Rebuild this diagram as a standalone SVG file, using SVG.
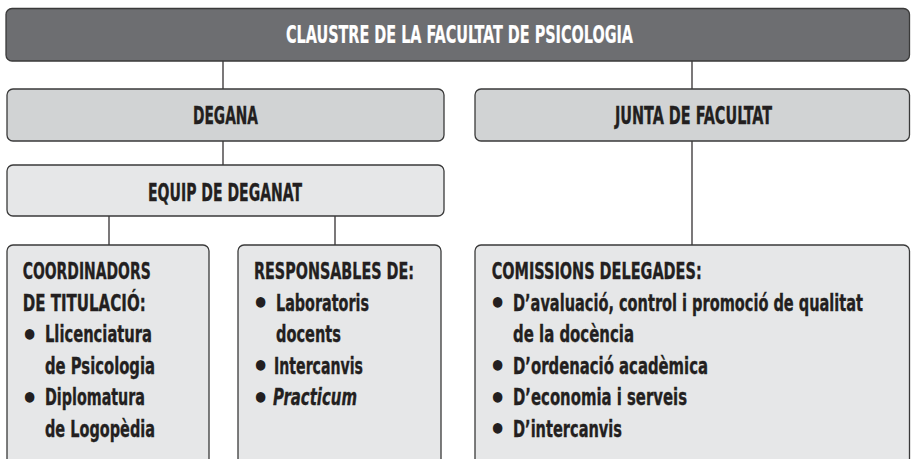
<svg xmlns="http://www.w3.org/2000/svg" width="911" height="459" viewBox="0 0 911 459">
<style>
.box{stroke:#3a3a3a;stroke-width:1.3}
.dark{fill:#6d6e71}
.mid{fill:#d1d3d4}
.light{fill:#e6e7e8}
.conn{stroke:#231f20;stroke-width:1.2;fill:none}
text{font-family:"DejaVu Sans Condensed","DejaVu Sans","Liberation Sans",sans-serif;font-weight:bold;fill:#231f20;stroke:#231f20;stroke-width:0.35}
.h{font-size:24.7px}
.b{font-size:22.5px}
.w{fill:#ffffff;stroke:#ffffff;stroke-width:0.2}
.bul{font-size:30px;stroke:none}
.it{font-style:italic}
</style>
<rect width="911" height="459" fill="#ffffff"/>
<g id="connectors">
<line class="conn" x1="223" y1="61" x2="223" y2="89"/>
<line class="conn" x1="692" y1="61" x2="692" y2="89"/>
<line class="conn" x1="223" y1="141" x2="223" y2="165"/>
<line class="conn" x1="692" y1="141" x2="692" y2="245"/>
<line class="conn" x1="109" y1="216" x2="109" y2="245"/>
<line class="conn" x1="335" y1="216" x2="335" y2="245"/>
</g>
<g id="claustre">
<rect class="box dark" x="6" y="8.5" width="903.5" height="52.5" rx="6"/>
<text class="h w" x="286" y="43.3" textLength="347" lengthAdjust="spacingAndGlyphs">CLAUSTRE DE LA FACULTAT DE PSICOLOGIA</text>
</g>
<g id="degana">
<rect class="box mid" x="7" y="89" width="437" height="52" rx="6"/>
<text class="h" x="193" y="124" textLength="65" lengthAdjust="spacingAndGlyphs">DEGANA</text>
</g>
<g id="junta">
<rect class="box mid" x="475" y="89" width="434.5" height="52" rx="6"/>
<text class="h" x="615" y="124" textLength="157" lengthAdjust="spacingAndGlyphs">JUNTA DE FACULTAT</text>
</g>
<g id="equip">
<rect class="box light" x="7" y="165" width="437" height="51" rx="6"/>
<text class="h" x="148" y="200.7" textLength="154" lengthAdjust="spacingAndGlyphs">EQUIP DE DEGANAT</text>
</g>
<g id="coordinadors">
<rect class="box light" x="7" y="245" width="202" height="240" rx="6"/>
<text class="b" x="22.7" y="278.5" textLength="128" lengthAdjust="spacingAndGlyphs">COORDINADORS</text>
<text class="b" x="22.7" y="310.5" textLength="123" lengthAdjust="spacingAndGlyphs">DE TITULACIÓ:</text>
<text class="bul" x="21" y="345.8">•</text>
<text class="b" x="45" y="342" textLength="107" lengthAdjust="spacingAndGlyphs">Llicenciatura</text>
<text class="b" x="45" y="373.5" textLength="110" lengthAdjust="spacingAndGlyphs">de Psicologia</text>
<text class="bul" x="21" y="408.8">•</text>
<text class="b" x="45" y="405" textLength="100" lengthAdjust="spacingAndGlyphs">Diplomatura</text>
<text class="b" x="45" y="436.5" textLength="110" lengthAdjust="spacingAndGlyphs">de Logopèdia</text>
</g>
<g id="responsables">
<rect class="box light" x="238" y="245" width="203" height="240" rx="6"/>
<text class="b" x="254" y="278.5" textLength="160" lengthAdjust="spacingAndGlyphs">RESPONSABLES DE:</text>
<text class="bul" x="252" y="314.3">•</text>
<text class="b" x="276" y="310.5" textLength="93" lengthAdjust="spacingAndGlyphs">Laboratoris</text>
<text class="b" x="276" y="342" textLength="65" lengthAdjust="spacingAndGlyphs">docents</text>
<text class="bul" x="252" y="377.3">•</text>
<text class="b" x="274" y="373.5" textLength="89" lengthAdjust="spacingAndGlyphs">Intercanvis</text>
<text class="bul" x="252" y="408.8">•</text>
<text class="b it" x="273" y="405" textLength="84" lengthAdjust="spacingAndGlyphs">Practicum</text>
</g>
<g id="comissions">
<rect class="box light" x="475" y="245" width="434.5" height="240" rx="6"/>
<text class="b" x="491.7" y="278.5" textLength="210" lengthAdjust="spacingAndGlyphs">COMISSIONS DELEGADES:</text>
<text class="bul" x="489" y="314.3">•</text>
<text class="b" transform="translate(513,310.5) scale(0.7,1)" x="0" y="0" textLength="500" lengthAdjust="spacingAndGlyphs">D’avaluació, control i promoció de qualitat</text>
<text class="b" x="513" y="342" textLength="121" lengthAdjust="spacingAndGlyphs">de la docència</text>
<text class="bul" x="489" y="377.3">•</text>
<text class="b" x="513" y="373.5" textLength="195" lengthAdjust="spacingAndGlyphs">D’ordenació acadèmica</text>
<text class="bul" x="489" y="408.8">•</text>
<text class="b" x="513" y="405" textLength="174" lengthAdjust="spacingAndGlyphs">D’economia i serveis</text>
<text class="bul" x="489" y="440.3">•</text>
<text class="b" x="513" y="436.5" textLength="109" lengthAdjust="spacingAndGlyphs">D’intercanvis</text>
</g>
</svg>
